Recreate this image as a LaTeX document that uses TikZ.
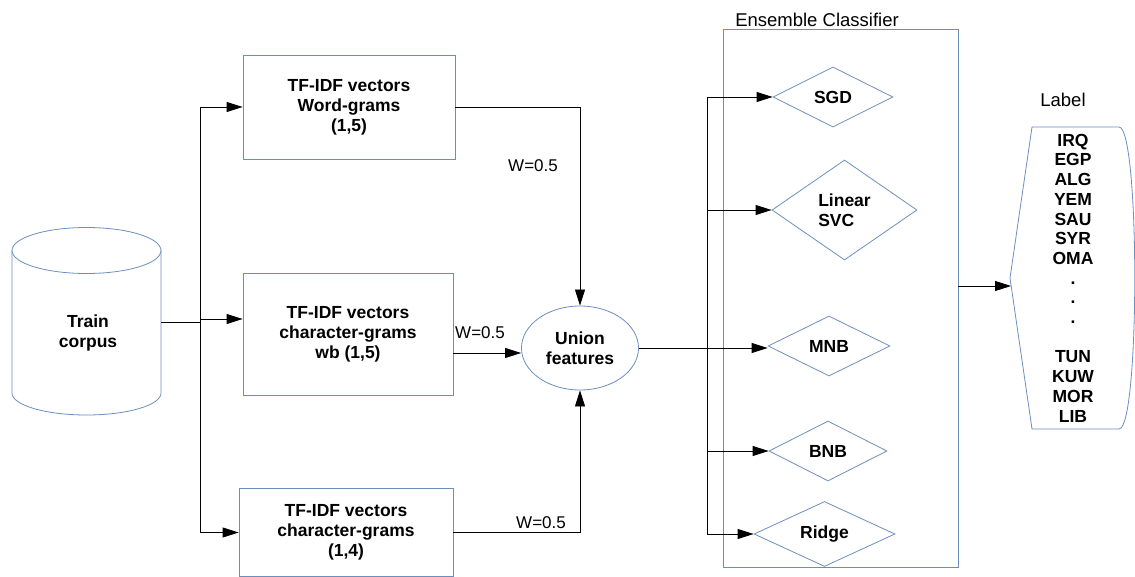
\documentclass[tikz,border=0pt]{standalone}
\usepackage{fontspec}
\setmainfont{Liberation Sans}
\usetikzlibrary{shapes.geometric,arrows.meta}
\definecolor{blueline}{RGB}{108,142,191}
\begin{document}
\begin{tikzpicture}[x=1pt,y=-1pt,
  shp/.style={draw=blueline, line width=0.8pt},
  conn/.style={draw=black, line width=0.8pt},
  arr/.style={conn, -{Triangle[length=16pt,width=10pt]}},
  bt/.style={font=\bfseries\fontsize{17.5}{20}\selectfont, align=center},
  rt/.style={font=\fontsize{17}{20}\selectfont},
  ttl/.style={font=\fontsize{18.5}{22}\selectfont},
  box/.style={shp, rectangle, inner sep=0pt},
  dia/.style={shp, diamond, inner sep=0pt, aspect=1, minimum height=60pt},
]
\useasboundingbox (0,0) rectangle (1135,577);
% cylinder
\draw[shp] (86.5,250.5) ellipse [x radius=74.5pt, y radius=23pt];
\draw[shp] (12,250.5) -- (12,393) .. controls (12,405.15) and (45.35,415) .. (86.5,415) .. controls (127.65,415) and (161,405.15) .. (161,393) -- (161,250.5);
\node[bt] (corp) at (88,333) {Train\\corpus};
\coordinate (corpR) at (161,322);
\coordinate (bus) at (200,322);
% feature boxes
\node[box, bt, minimum width=212pt, minimum height=104pt] (b1) at (349,107) {TF-IDF vectors\\Word-grams\\(1,5)};
\node[box, bt, minimum width=210pt, minimum height=122pt] (b2) at (348,334) {TF-IDF vectors\\character-grams\\wb (1,5)};
\node[box, bt, minimum width=214pt, minimum height=88pt] (b3) at (346,532.5) {TF-IDF vectors\\character-grams\\(1,4)};
% union
\node[shp, ellipse, minimum width=117pt, minimum height=84pt, inner sep=0pt, bt] (un) at (580,348) {Union\\features};
% ensemble
\node[box, minimum width=235pt, minimum height=538pt] (ens) at (840.5,298) {};
\node[ttl] (enst) at (817,19.5) {Ensemble Classifier};
\node[dia, bt, minimum width=120pt] (sgd) at (833,97) {SGD};
\node[dia, bt, align=left, minimum width=145pt, minimum height=100pt] (svc) at (844.5,210) {Linear\\SVC};
\node[dia, bt, minimum width=122pt] (mnb) at (829,346) {MNB};
\node[dia, bt, minimum width=118pt] (bnb) at (828,451) {BNB};
\node[dia, bt, minimum width=141pt] (rid) at (824.5,534) {Ridge};
% label shape
\draw[shp] (1010,278) -- (1032,127) -- (1119,127) .. controls (1140,127) and (1140,429) .. (1119,429) -- (1032,429) -- cycle;
\coordinate (lblin) at (1011,286);
\node[ttl] (lblt) at (1063,99.5) {Label};
\node[bt, font=\bfseries\fontsize{17.5}{19.7}\selectfont] (lst) at (1073,278) {IRQ\\EGP\\ALG\\YEM\\SAU\\SYR\\OMA\\.\\.\\.\\~\\TUN\\KUW\\MOR\\LIB};
% connectors left
\draw[conn] (corpR) -- (bus);
\draw[conn] (bus |- b1.west) -- (bus |- b3.west);
\draw[arr] (bus |- b1.west) -- (b1.west);
\coordinate (b2in) at ([yshift=15pt]b2.west);
\draw[arr] (bus |- b2in) -- (b2in);
\draw[arr] (bus |- b3.west) -- (b3.west);
% into union
\draw[arr] (b1.east) -| (un.north);
\coordinate (b2out) at ([yshift=-19pt]b2.east);
\draw[arr] (b2out) -- (b2out -| un.west);
\draw[arr] (b3.east) -| (un.south);
\node[rt] (w1) at (533,166) {W=0.5};
\node[rt] (w2) at (480,333) {W=0.5};
\node[rt] (w3) at (541,523) {W=0.5};
% to classifiers
\coordinate (cbus) at (707,348);
\draw[arr] (un.east) -- (un.east -| mnb.west);
\draw[conn] (cbus |- sgd.west) -- (cbus |- rid.west);
\draw[arr] (cbus |- sgd.west) -- (sgd.west);
\draw[arr] (cbus |- svc.west) -- (svc.west);
\draw[arr] (cbus |- bnb.west) -- (bnb.west);
\draw[arr] (cbus |- rid.west) -- (rid.west);
% to label
\draw[arr] (ens.east |- lblin) -- (lblin);
\end{tikzpicture}
\end{document}
